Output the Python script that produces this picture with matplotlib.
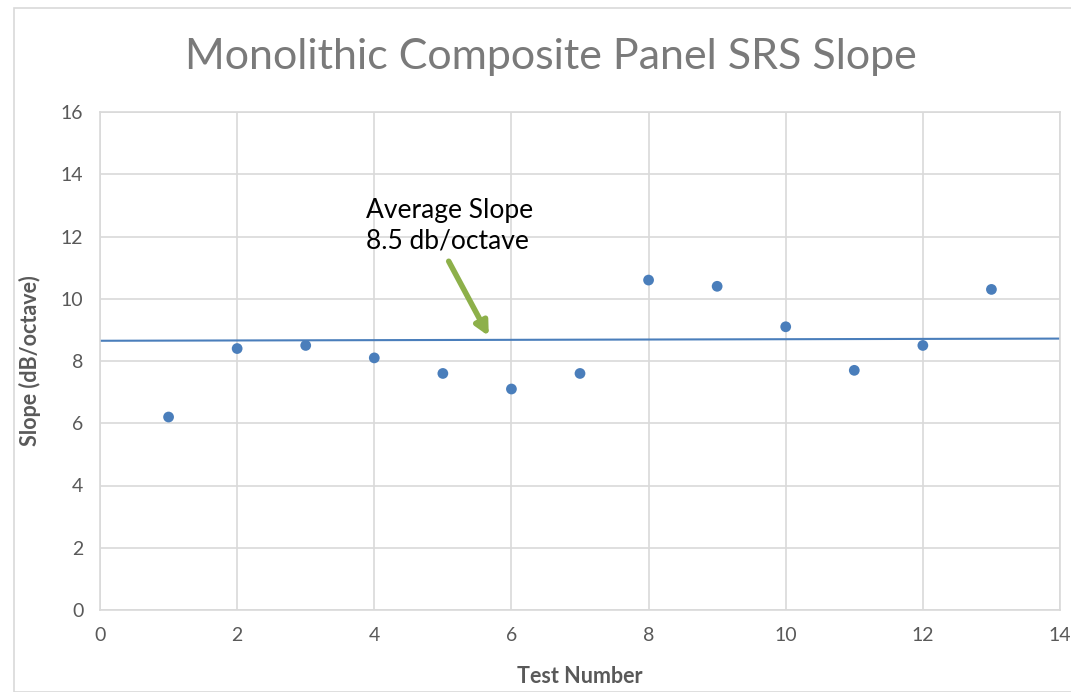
import matplotlib
matplotlib.use('Agg')
import matplotlib.pyplot as plt
from matplotlib.patches import Rectangle

plt.rcParams['font.family'] = ['Lato', 'DejaVu Sans']

# data
test_number = [1, 2, 3, 4, 5, 6, 7, 8, 9, 10, 11, 12, 13]
slope = [6.2, 8.4, 8.5, 8.1, 7.6, 7.1, 7.6, 10.6, 10.4, 9.1, 7.7, 8.5, 10.3]
avg_x = [0, 14]
avg_y = [8.65, 8.72]
x_ticks = [0, 2, 4, 6, 8, 10, 12, 14]
y_ticks = [0, 2, 4, 6, 8, 10, 12, 14, 16]

blue = '#4A7EBB'
grid_c = '#D9D9D9'
text_c = '#595959'

fig = plt.figure(figsize=(10.71, 6.92), dpi=100)
ax = fig.add_axes([100/1071, 1 - 610/692, 960/1071, 498/692])

# outer chart border
fig.patches.append(Rectangle((14/1071, 0), 1, 1 - 8/692, transform=fig.transFigure,
                             fill=False, edgecolor=grid_c, linewidth=1.2))

ax.plot(avg_x, avg_y, color=blue, linewidth=1.5, zorder=2)
ax.scatter(test_number, slope, s=60, color=blue, zorder=3, edgecolors='none')

ax.set_xlim(0, 14)
ax.set_ylim(0, 16)
ax.set_xticks(x_ticks)
ax.set_yticks(y_ticks)
ax.grid(True, color=grid_c, linewidth=1.2)
ax.set_axisbelow(True)
for sp in ax.spines.values():
    sp.set_color(grid_c)
    sp.set_linewidth(1.2)
ax.tick_params(length=0, labelsize=14, colors=text_c, pad=12)

ax.set_xlabel('Test Number', fontsize=15.5, fontweight='bold', color=text_c, labelpad=16)
ax.set_ylabel('Slope (dB/octave)', fontsize=15.5, fontweight='bold', color=text_c, labelpad=14)
fig.text(551/1071, 1 - 57/692, 'Monolithic Composite Panel SRS Slope', fontsize=31,
         color='#7A7A7A', ha='center', va='center')

ax.annotate('Average Slope\n8.5 db/octave', xy=(5.67, 8.8), xytext=(3.88, 13.25),
            fontsize=19, color='black', va='top', ha='left', linespacing=1.3,
            arrowprops=dict(arrowstyle='-|>', color='#8DB04A', lw=4,
                            mutation_scale=20, shrinkA=4, shrinkB=0,
                            relpos=(0.47, 0.0)))

fig.savefig('out.png', dpi=100)
